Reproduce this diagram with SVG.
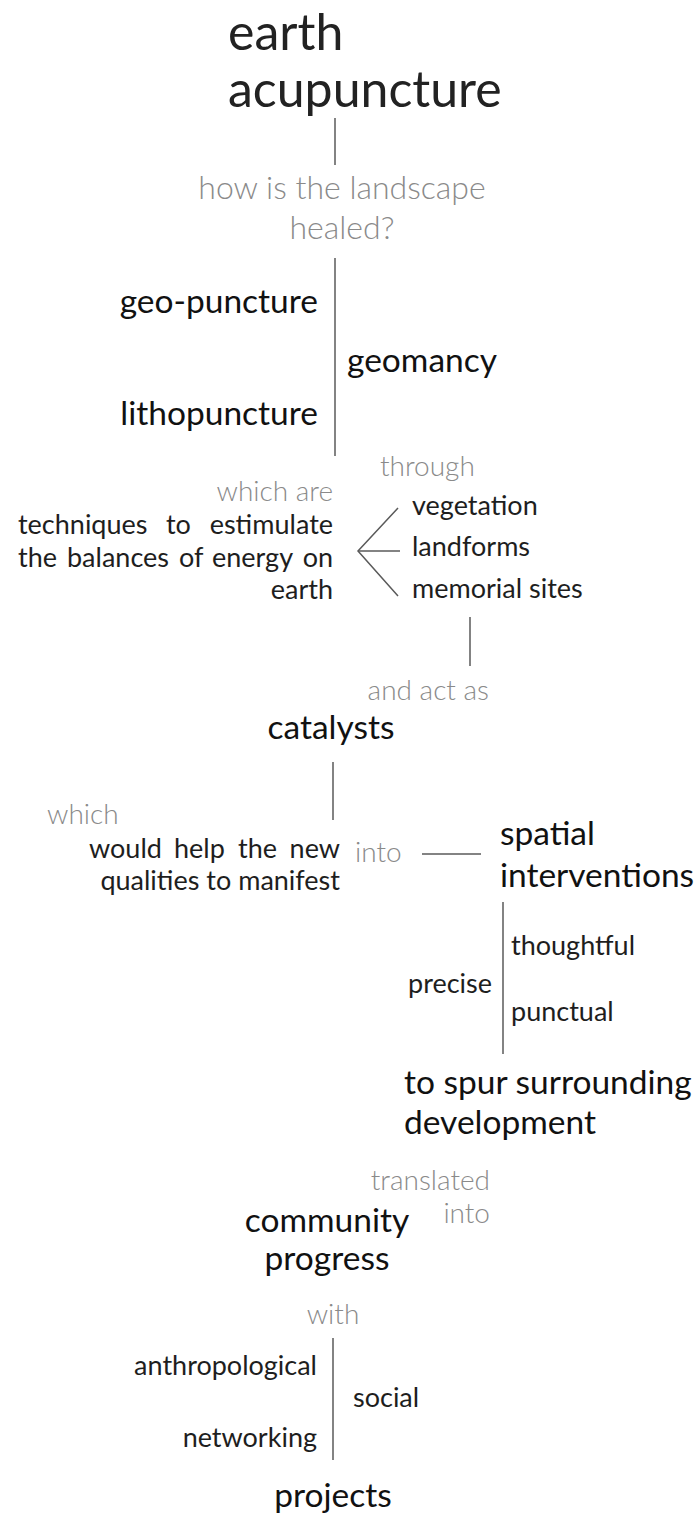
<svg xmlns="http://www.w3.org/2000/svg" width="700" height="1520" viewBox="0 0 700 1520">
  <style>
    text { font-family: Lato, "Open Sans", "Liberation Sans", sans-serif; }
    .title { font-size: 50px; fill: #222; }
    .head { font-size: 33.5px; fill: #111; }
    .body { font-size: 27px; fill: #1e1e1e; }
    .note { font-size: 28px; fill: #8a8a8a; font-weight: 300; }
    .ask { font-size: 32px; }
    .end { text-anchor: end; }
    .mid { text-anchor: middle; }
    .link { stroke: #5a5a5a; stroke-width: 1.5; fill: none; }
  </style>
  <rect width="700" height="1520" fill="#fff"/>

  <g id="connectors">
    <line class="link" x1="335" y1="118" x2="335" y2="165"/>
    <line class="link" x1="335" y1="258" x2="335" y2="456"/>
    <polyline class="link" points="398,508 358,551 398,596"/>
    <line class="link" x1="358" y1="551" x2="400" y2="551"/>
    <line class="link" x1="470" y1="617" x2="470" y2="666"/>
    <line class="link" x1="333" y1="762" x2="333" y2="820"/>
    <line class="link" x1="422" y1="854" x2="481" y2="854"/>
    <line class="link" x1="503" y1="902" x2="503" y2="1054"/>
    <line class="link" x1="333" y1="1338" x2="333" y2="1460"/>
  </g>

  <g id="node-title">
    <text class="title" x="228" y="50">earth</text>
    <text class="title" x="228" y="107">acupuncture</text>
  </g>

  <g id="node-question">
    <text class="note ask mid" x="342" y="199">how is the landscape</text>
    <text class="note ask mid" x="342" y="239">healed?</text>
  </g>

  <g id="node-geopuncture"><text class="head end" x="318" y="313">geo-puncture</text></g>
  <g id="node-geomancy"><text class="head" x="347" y="372">geomancy</text></g>
  <g id="node-lithopuncture"><text class="head end" x="318" y="425">lithopuncture</text></g>

  <g id="node-techniques">
    <text class="note end" x="333" y="501">which are</text>
    <text class="body" y="534"><tspan x="18">techniques</tspan><tspan x="166">to</tspan></text>
    <text class="body end" x="333" y="534">estimulate</text>
    <text class="body" y="567"><tspan x="18">the</tspan><tspan x="67">balances</tspan><tspan x="179">of</tspan><tspan x="212">energy</tspan></text>
    <text class="body end" x="333" y="567">on</text>
    <text class="body end" x="333" y="599">earth</text>
  </g>

  <g id="node-through">
    <text class="note" x="380" y="476">through</text>
    <text class="body" x="412" y="515">vegetation</text>
    <text class="body" x="412" y="556">landforms</text>
    <text class="body" x="412" y="598">memorial sites</text>
  </g>

  <g id="node-catalysts">
    <text class="note end" x="489" y="700">and act as</text>
    <text class="head mid" x="331" y="739">catalysts</text>
  </g>

  <g id="node-manifest">
    <text class="note" x="47" y="824">which</text>
    <text class="body" y="858"><tspan x="89">would</tspan><tspan x="174">help</tspan><tspan x="238">the</tspan></text>
    <text class="body end" x="340" y="858">new</text>
    <text class="body end" x="340" y="890">qualities to manifest</text>
    <text class="note" x="355" y="862">into</text>
  </g>

  <g id="node-spatial">
    <text class="head" x="500" y="845">spatial</text>
    <text class="head" x="500" y="887">interventions</text>
  </g>

  <g id="node-qualities">
    <text class="body" x="511" y="955">thoughtful</text>
    <text class="body end" x="492" y="993">precise</text>
    <text class="body" x="511" y="1021">punctual</text>
  </g>

  <g id="node-development">
    <text class="head" x="404" y="1094">to spur surrounding</text>
    <text class="head" x="404" y="1134">development</text>
  </g>

  <g id="node-community">
    <text class="note end" x="490" y="1190">translated</text>
    <text class="note end" x="490" y="1223">into</text>
    <text class="head mid" x="327" y="1232">community</text>
    <text class="head mid" x="327" y="1270">progress</text>
  </g>

  <g id="node-projects">
    <text class="note mid" x="333" y="1324">with</text>
    <text class="body end" x="317" y="1375">anthropological</text>
    <text class="body" x="353" y="1407">social</text>
    <text class="body end" x="317" y="1447">networking</text>
    <text class="head mid" x="333" y="1507">projects</text>
  </g>
</svg>
